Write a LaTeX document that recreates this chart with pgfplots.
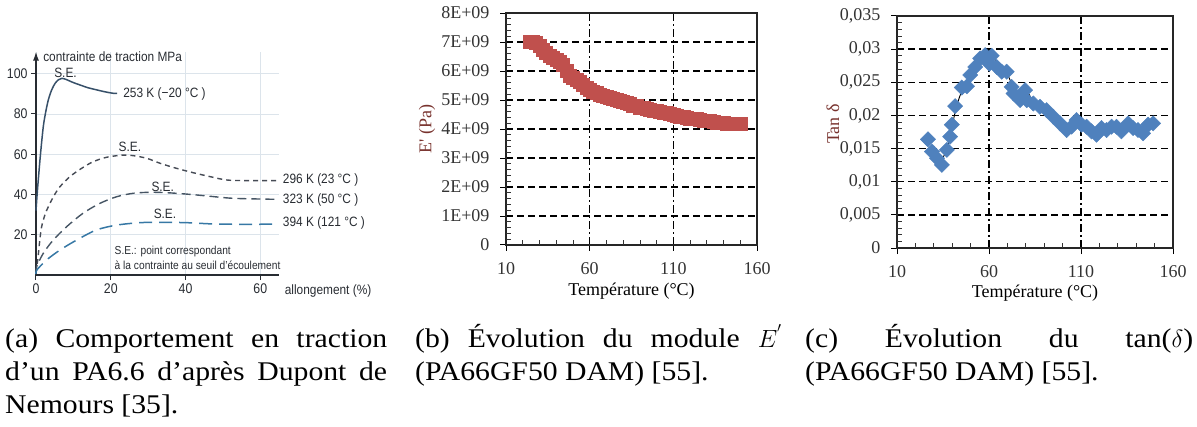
\documentclass[border=0pt]{standalone}
\usepackage{fontspec}
\setmainfont{Liberation Serif}[FakeStretch=1.1]
\newfontfamily\timesf{Liberation Serif}
\newfontfamily\arsf{Liberation Sans}[FakeStretch=0.88]
\usepackage{pgfplots}
\pgfplotsset{compat=1.18}
\usetikzlibrary{arrows.meta}
\definecolor{tickgray}{HTML}{333333}
\definecolor{labred}{RGB}{120,50,45}
\definecolor{ered}{RGB}{192,80,77}
\definecolor{tblue}{RGB}{79,129,189}
\definecolor{scan}{RGB}{40,44,50}
\definecolor{c253}{RGB}{55,80,105}
\definecolor{c296}{RGB}{70,75,85}
\definecolor{c323}{RGB}{70,85,100}
\definecolor{c394}{RGB}{55,120,165}
\definecolor{gridlt}{RGB}{220,228,235}
\pgfplotsset{
  excelstyle/.style={
    scale only axis, anchor=south west,
    axis line style={line width=1.8pt, black!85},
    tick pos=left, tick align=outside,
    major tick length=6pt,
    major tick style={line width=1pt, black},
    xmajorgrids, ymajorgrids,
    x grid style={line width=1.6pt, black, dash pattern=on 8pt off 3pt on 2pt off 3pt},
    y grid style={line width=1.5pt, black, dash pattern=on 7pt off 4pt},
    tick label style={font=\timesf\fontsize{18}{20}\selectfont, text=tickgray},
    xticklabel style={yshift=-8pt},
    yticklabel style={xshift=-7pt},
    label style={font=\timesf\fontsize{18}{20}\selectfont},
    /pgf/number format/assume math mode=true,
    scaled y ticks=false, scaled x ticks=false,
    xmin=10, xmax=160, xtick={10,60,110,160},
    extra x ticks={20,30,40,50,70,80,90,100,120,130,140,150},
    extra x tick labels={},
    extra x tick style={tick align=inside, major tick length=5pt, xmajorgrids=false, major tick style={line width=0.7pt, black!80}},
    extra y tick labels={},
    extra y tick style={tick align=inside, major tick length=5pt, ymajorgrids=false, major tick style={line width=0.7pt, black!80}},
    clip=false,
  }
}
\begin{document}
\begin{tikzpicture}
\path[use as bounding box] (0pt,0pt) rectangle (1197pt,426pt);

% ---------------- panel (a)
\begin{axis}[scale only axis, anchor=south west, at={(36pt,151pt)},
  width=243pt, height=223.4pt,
  xmin=0, xmax=65, ymin=0, ymax=111,
  axis x line=bottom, axis y line=left,
  every outer x axis line/.append style={-},
  x axis line style={-, line width=1.3pt, scan},
  y axis line style={-{Latex[length=9pt,width=6pt]}, line width=1.3pt, scan},
  xtick={0,20,40,60}, ytick={20,40,60,80,100},
  tick align=outside, major tick length=5pt, tick style={line width=1pt, scan},
  grid=major, grid style={line width=0.9pt, gridlt},
  tick label style={font=\arsf\fontsize{14}{16}\selectfont, text=scan},
  /pgf/number format/assume math mode=true,
  clip=false,
]
\addplot[c253, line width=1.5pt, smooth] coordinates {
(0,32) (0.3,40) (0.6,47) (1.2,60) (1.95,73.7) (2.6,81) (3.3,87) (4.2,92) (5.1,95.2) (6,97) (6.9,97.7) (8,97.2) (10,95.6) (11.8,94.4) (14,93) (16.2,92) (18.5,91) (20.6,90.3) (21.7,90.2)};
\addplot[c296, line width=1.4pt, smooth, dash pattern=on 5pt off 4pt] coordinates {
(0,1) (0.5,8) (1,17) (1.51,24) (2.5,30.5) (3.74,35.6) (5,40) (6.42,43.9) (9.09,48.9) (12.2,53) (15.3,56.3) (18.9,58.5) (23.3,59.6) (26,59.3) (29.6,58) (33.2,55.5) (37.6,53) (42.1,50.8) (46.5,48.9) (51,47.2) (56.3,46.9) (64.4,46.9)};
\addplot[c323, line width=1.4pt, smooth, dash pattern=on 9pt off 5pt] coordinates {
(0,0.5) (0.18,4.1) (1.96,10.8) (4.63,17.4) (8.2,24) (12.6,30.7) (17.1,35.6) (21.6,38.9) (26,40.6) (30.5,41.1) (34.9,40.9) (40.3,40.2) (45.6,39.3) (52.8,38.1) (64.4,37.6)};
\addplot[c394, line width=1.5pt, smooth, dash pattern=on 13pt off 7pt] coordinates {
(0,0.5) (0.18,2.4) (2.85,7.5) (6.42,12.4) (10.9,17.4) (16.2,22.4) (21.6,24.8) (27.8,26) (33.2,26.2) (40.3,26) (48.3,25.3) (58.1,25.2) (64.4,25.3)};
\begin{scope}[every node/.style={font=\arsf\fontsize{13.5}{15}\selectfont, text=scan, inner sep=0pt}]
\node[anchor=west] at (axis cs:1.9,108.3) {contrainte de traction MPa};
\node[anchor=west] at (axis cs:66.5,-8) {allongement (\%)};
\node[anchor=west] at (axis cs:23.3,89.8) {253 K (−20 °C )};
\node[anchor=west] at (axis cs:66,47.2) {296 K (23 °C )};
\node[anchor=west] at (axis cs:66,37.3) {323 K (50 °C )};
\node[anchor=west] at (axis cs:66,25.8) {394 K (121 °C )};
\node at (axis cs:7.9,100.6) {S.E.};
\node at (axis cs:25.1,63.6) {S.E.};
\node at (axis cs:33.9,43.9) {S.E.};
\node at (axis cs:34.5,30.3) {S.E.};
\end{scope}
\begin{scope}[every node/.style={font=\arsf\fontsize{11.6}{13}\selectfont, text=scan, inner sep=0pt}]
\node[anchor=west] at (axis cs:21,11.9) {S.E.: point correspondant};
\node[anchor=west] at (axis cs:21,5.0) {à la contrainte au seuil d’écoulement};
\end{scope}
\end{axis}

% ---------------- panel (b)
\begin{axis}[excelstyle, at={(506pt,181pt)}, width=251pt, height=232pt,
  ymin=0, ymax=8, ytick={0,1,2,3,4,5,6,7,8},
  yticklabels={0,1E+09,2E+09,3E+09,4E+09,5E+09,6E+09,7E+09,8E+09},
  extra y ticks={0.2,0.4,0.6,0.8,1.2,1.4,1.6,1.8,2.2,2.4,2.6,2.8,3.2,3.4,3.6,3.8,4.2,4.4,4.6,4.8,5.2,5.4,5.6,5.8,6.2,6.4,6.6,6.8,7.2,7.4,7.6,7.8},
  xlabel={Température (°C)}, ylabel={E' (Pa)},
  xlabel style={at={(axis description cs:0.5,-0.198)}, anchor=center},
  ylabel style={at={(axis description cs:-0.315,0.5)}, anchor=center, text=labred},
]
\addplot[only marks, mark=square*, mark size=6.5pt, color=ered] table {
x y
24 7.00
26 7.00
28 6.97
30 6.88
32 6.75
34 6.62
36 6.52
38 6.45
40 6.40
42 6.32
44 6.22
46 6.02
48 5.84
50 5.76
52 5.70
54 5.62
56 5.53
58 5.44
60 5.36
62 5.29
64 5.24
66 5.20
68 5.16
70 5.12
72 5.08
74 5.04
76 5.00
78 4.97
80 4.93
82 4.89
84 4.86
86 4.82
88 4.79
90 4.75
92 4.72
94 4.69
96 4.66
98 4.64
100 4.62
102 4.59
104 4.57
106 4.55
108 4.52
110 4.49
112 4.46
114 4.43
116 4.41
118 4.39
120 4.37
122 4.36
124 4.34
126 4.32
128 4.30
130 4.29
132 4.27
134 4.25
136 4.23
138 4.22
140 4.21
142 4.20
144 4.19
146 4.18
148 4.17
150 4.17
};
\end{axis}

% ---------------- panel (c)
\begin{axis}[excelstyle, at={(897pt,178pt)}, width=276pt, height=232pt,
  ymin=0, ymax=0.035, ytick={0,0.005,0.01,0.015,0.02,0.025,0.03,0.035},
  yticklabels={0,{0,005},{0,01},{0,015},{0,02},{0,025},{0,03},{0,035}},
  extra y ticks={0.001,0.002,0.003,0.004,0.006,0.007,0.008,0.009,0.011,0.012,0.013,0.014,0.016,0.017,0.018,0.019,0.021,0.022,0.023,0.024,0.026,0.027,0.028,0.029,0.031,0.032,0.033,0.034},
  xlabel={Température (°C)}, ylabel={Tan δ},
  xlabel style={at={(axis description cs:0.5,-0.194)}, anchor=center},
  ylabel style={at={(axis description cs:-0.232,0.534)}, anchor=center, text=labred},
]
\addplot[only marks, mark=square*, mark size=5.4pt, color=tblue, every mark/.append style={rotate=45}] table {
x y
26.8 0.0164
29 0.01455
31.7 0.01354
34.4 0.01254
37.1 0.0148
38.9 0.0168
39.8 0.0186
41.6 0.0214
45.2 0.0242
48 0.0244
49.8 0.0261
52.5 0.0273
55.2 0.0286
57.9 0.0291
60.2 0.0278
61.5 0.0290
64.2 0.0273
66.9 0.0266
69.6 0.0266
72.3 0.0243
73.3 0.0233
76.9 0.0223
79.6 0.0238
80.5 0.0223
84.1 0.0218
87.7 0.0213
91.3 0.0208
94.9 0.0198
98.6 0.0188
102.2 0.0178
104.9 0.0183
107.6 0.0193
110.3 0.0186
113 0.0183
115.7 0.0176
118.4 0.0171
121.1 0.0181
123.9 0.0178
126.6 0.0183
129.3 0.0183
132 0.0176
135.6 0.0188
138.3 0.0181
141 0.0178
143.7 0.0173
146.5 0.0186
149.2 0.0188
};
\addplot[black, line width=0.9pt, smooth] coordinates {
(29.9,0.0154) (32,0.0140) (34.4,0.0135) (37,0.0148) (39,0.0170) (41.6,0.0205) (44,0.0228) (46.1,0.0241) (49,0.0252) (51.6,0.0263) (55,0.0278) (58.8,0.0288) (62,0.0286) (66,0.0278) (70,0.0262) (73.3,0.0243) (77.8,0.0231) (81.4,0.0233) (84.1,0.0218) (87.5,0.0211) (91.3,0.0206) (96,0.0196) (100.3,0.0186) (103.9,0.0183) (107.6,0.0183) (111.2,0.0189) (114.8,0.0183) (119.3,0.0173) (123.9,0.0178) (129.3,0.0183) (133.8,0.0178) (136.5,0.0184) (140.1,0.0182) (145.6,0.0179) (149.2,0.0187)};
\end{axis}

% ---------------- captions
\node[anchor=base west, inner sep=0pt] at (5pt,78pt) {\parbox[t]{382pt}{\fontsize{27}{32.7}\selectfont\hyphenpenalty=10000 (a) Comportement en traction\linebreak d’un PA6.6 d’après Dupont de\linebreak Nemours [35].}};
\node[anchor=base west, inner sep=0pt] at (415pt,78pt) {\parbox[t]{367pt}{\fontsize{27}{32.7}\selectfont\hyphenpenalty=10000 (b) Évolution du module $E^{'}$\linebreak (PA66GF50 DAM) [55].}};
\node[anchor=base west, inner sep=0pt] at (805pt,78pt) {\parbox[t]{388pt}{\fontsize{27}{32.7}\selectfont\hyphenpenalty=10000 (c) Évolution du tan($\delta$)\linebreak (PA66GF50 DAM) [55].}};
\end{tikzpicture}
\end{document}
